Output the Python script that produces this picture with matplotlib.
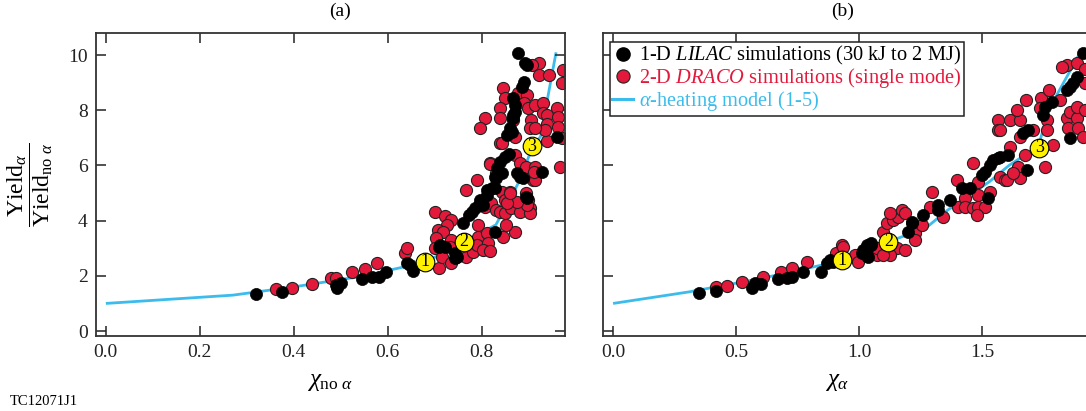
import matplotlib
matplotlib.use("Agg")
import matplotlib.pyplot as plt
from matplotlib.lines import Line2D

plt.rcParams['font.family'] = ['Liberation Serif', 'DejaVu Serif']
plt.rcParams['mathtext.fontset'] = 'custom'
plt.rcParams['mathtext.rm'] = 'Liberation Serif'
plt.rcParams['mathtext.it'] = 'Liberation Serif:italic'
plt.rcParams['mathtext.bf'] = 'Liberation Serif:bold'

RED = '#E3193C'
CYAN = '#3CBCEC'
YELLOW = '#FFF200'

# ---------------- panel (a): chi_no_alpha ----------------
a_black_x = [0.320, 0.374, 0.491, 0.501, 0.490, 0.545, 0.567, 0.581, 0.597, 0.640, 0.654, 0.647,
             0.711, 0.721, 0.743, 0.747, 0.708, 0.743,
             0.761, 0.772, 0.779, 0.785, 0.793, 0.796, 0.803, 0.810, 0.810, 0.821, 0.828, 0.828,
             0.833, 0.839, 0.831, 0.842, 0.850, 0.857, 0.853, 0.864, 0.860, 0.867, 0.867, 0.871,
             0.871, 0.867, 0.885, 0.889, 0.892, 0.896, 0.878, 0.874, 0.882, 0.888, 0.895, 0.896,
             0.928, 0.960, 0.828]
a_black_y = [1.33, 1.40, 1.57, 1.73, 1.68, 1.88, 1.94, 1.97, 2.15, 2.47, 2.17, 2.39,
             3.12, 3.05, 2.63, 2.69, 3.05, 2.81,
             3.90, 4.20, 4.32, 4.45, 4.57, 4.75, 4.57, 4.93, 5.11, 5.17, 5.17, 5.59,
             5.89, 6.13, 5.53, 5.71, 6.32, 6.43, 7.10, 7.22, 7.34, 7.71, 7.83, 7.95,
             8.19, 8.43, 8.85, 9.03, 9.70, 9.64, 10.08, 5.71, 5.59, 5.53, 4.87, 4.81,
             5.77, 7.04, 3.60]

a_red_x = [0.363, 0.397, 0.439, 0.478, 0.489, 0.523, 0.551, 0.577, 0.636, 0.640,
           0.709, 0.700, 0.721, 0.735, 0.725, 0.707, 0.718, 0.702, 0.700, 0.716, 0.735, 0.732,
           0.735, 0.767, 0.781, 0.792, 0.792, 0.789, 0.810, 0.813, 0.803,
           0.767, 0.789, 0.817, 0.838, 0.806, 0.820, 0.831, 0.842, 0.860, 0.849, 0.856, 0.874,
           0.895, 0.899, 0.902, 0.838, 0.849, 0.863, 0.881, 0.831, 0.870, 0.881, 0.895, 0.913,
           0.913, 0.909, 0.938, 0.967,
           0.922, 0.906, 0.921, 0.942, 0.972, 0.845, 0.850, 0.878, 0.896, 0.889, 0.839, 0.839,
           0.807, 0.796, 0.867, 0.899, 0.913, 0.931, 0.931, 0.905, 0.938, 0.960, 0.963, 0.938,
           0.963, 0.935, 0.903, 0.913, 0.970, 0.970, 0.842, 0.871, 0.871, 0.852, 0.845, 0.818,
           0.903, 0.896, 0.913, 0.910, 0.875, 0.853, 0.860, 0.818]
a_red_y = [1.51, 1.57, 1.70, 1.92, 1.92, 2.13, 2.23, 2.45, 2.81, 3.00,
           2.27, 4.32, 4.17, 4.04, 3.84, 3.66, 3.60, 3.36, 3.00, 2.69, 3.30, 3.05,
           2.45, 2.69, 2.87, 3.84, 3.42, 3.12, 3.54, 3.18, 2.93,
           5.11, 5.47, 6.08, 6.80, 4.50, 4.63, 4.38, 5.05, 5.05, 4.75, 4.57, 4.57,
           4.99, 4.75, 4.45, 4.32, 4.26, 4.45, 4.32, 5.71, 6.38, 6.08, 5.95, 5.95,
           5.71, 5.47, 6.87, 5.95,
           9.72, 9.64, 9.28, 9.28, 9.46, 8.82, 8.43, 8.61, 8.55, 8.25, 8.07, 7.71,
           7.71, 7.34, 7.64, 8.07, 8.19, 8.25, 7.89, 7.64, 7.83, 8.07, 7.77, 7.52,
           7.40, 7.28, 7.34, 7.34, 8.97, 6.98, 6.80, 7.04, 3.60, 3.84, 3.42, 2.90,
           4.26, 4.57, 5.47, 5.77, 4.69, 4.63, 5.01, 6.07]

a_model_x = [0.0, 0.27, 0.40, 0.55, 0.68, 0.76, 0.83, 0.857, 0.882, 0.906, 0.925, 0.958]
a_model_y = [1.0, 1.30, 1.60, 2.00, 2.50, 3.20, 3.85, 4.70, 5.50, 6.60, 7.05, 10.1]

a_mark_x = [0.679, 0.762, 0.906]
a_mark_y = [2.51, 3.24, 6.70]

# ---------------- panel (b): chi_alpha ----------------
b_black_x = [0.351, 0.419, 0.566, 0.577, 0.600, 0.672, 0.706, 0.726, 0.774, 0.846, 0.871, 0.882,
             0.896, 1.011, 1.031, 1.031, 1.050, 1.015, 1.034, 1.038, 1.050, 1.200, 1.214, 1.214,
             1.261, 1.322, 1.322, 1.370, 1.417, 1.451, 1.526, 1.499, 1.512, 1.533, 1.546, 1.566,
             1.573, 1.607, 1.684, 1.668, 1.688, 1.749, 1.756, 1.783, 1.858, 1.871, 1.858, 1.844,
             1.885, 1.912]
b_black_y = [1.39, 1.45, 1.57, 1.73, 1.69, 1.88, 1.93, 1.97, 2.15, 2.15, 2.45, 2.57,
             2.51, 2.81, 3.00, 3.12, 3.12, 2.93, 2.72, 2.69, 3.18, 3.60, 3.90, 3.96,
             4.20, 4.57, 4.38, 4.75, 5.17, 5.17, 4.81, 5.65, 5.77, 6.01, 6.20, 6.26,
             6.32, 6.38, 5.83, 7.16, 7.28, 7.83, 8.13, 8.31, 6.98, 8.97, 8.85, 8.73,
             9.21, 10.06]

b_red_x = [0.419, 0.462, 0.526, 0.608, 0.682, 0.726, 0.790, 0.906, 0.930, 0.936, 0.984, 0.997,
           1.072, 1.085, 1.072, 1.099, 1.113, 1.139, 1.160, 1.174, 1.187, 1.126, 1.153, 1.187,
           1.126, 1.228, 1.228, 1.099,
           1.255, 1.295, 1.289, 1.343, 1.397, 1.404, 1.431, 1.431, 1.465, 1.485, 1.485, 1.512,
           1.478, 1.533, 1.465, 1.485, 1.573, 1.593, 1.566, 1.566,
           1.600, 1.648, 1.654, 1.627, 1.675, 1.614, 1.654, 1.573, 1.614, 1.654, 1.641, 1.681,
           1.756, 1.790, 1.709, 1.742, 1.736, 1.763, 1.763, 1.773, 1.817, 1.844, 1.858, 1.885,
           1.851, 1.892, 1.912, 1.844, 1.824, 1.885, 1.885, 1.920, 1.920, 1.920]
b_red_y = [1.61, 1.63, 1.76, 1.95, 2.15, 2.27, 2.51, 2.81, 3.12, 3.05, 2.75, 2.51,
           2.75, 3.00, 3.00, 3.60, 3.90, 4.02, 4.14, 4.38, 4.26, 4.26, 3.00, 2.93,
           2.75, 3.54, 3.30, 2.75,
           3.84, 5.05, 4.50, 4.14, 5.47, 4.50, 4.81, 4.50, 4.45, 4.93, 4.50, 4.50,
           4.20, 5.05, 6.08, 5.41, 5.59, 5.47, 7.64, 7.28,
           5.47, 5.95, 5.53, 5.71, 6.38, 6.68, 7.04, 7.28, 7.64, 7.64, 8.00, 8.37,
           5.95, 6.74, 7.28, 8.43, 8.07, 7.64, 7.28, 8.73, 8.37, 7.71, 7.95, 7.71,
           7.34, 7.34, 7.04, 9.64, 9.58, 9.70, 8.13, 8.00, 8.97, 9.50]

b_model_x = [0.0, 0.31, 0.60, 0.93, 1.12, 1.27, 1.36, 1.53, 1.61, 1.73, 1.77, 1.90]
b_model_y = [1.0, 1.42, 1.90, 2.55, 3.24, 3.72, 4.38, 5.41, 6.00, 6.70, 8.00, 10.1]

b_mark_x = [0.930, 1.119, 1.733]
b_mark_y = [2.57, 3.24, 6.65]

mark_labels = ['1', '2', '3']
yticks = [0, 2, 4, 6, 8, 10]
a_xticks = [0.0, 0.2, 0.4, 0.6, 0.8]
b_xticks = [0.0, 0.5, 1.0, 1.5]

legend_labels = [r'1-D $\mathit{LILAC}$ simulations (30 kJ to 2 MJ)',
                 r'2-D $\mathit{DRACO}$ simulations (single mode)',
                 r'$\alpha$-heating model (1-5)']

W, H = 1086, 411
fig = plt.figure(figsize=(W / 100, H / 100), dpi=100)

axA = fig.add_axes([96 / W, 1 - 336 / H, 469 / W, 303 / H])
axB = fig.add_axes([603 / W, 1 - 336 / H, 497 / W, 303 / H])

S_DOT = 76
S_MARK = 180


def draw(ax, mx, my, rx, ry, bx, by, kx, ky):
    ax.plot(mx, my, color=CYAN, lw=2.0, zorder=1, solid_capstyle='butt')
    ax.scatter(rx, ry, s=S_DOT, c=RED, edgecolors='#222222', linewidths=0.8, zorder=2)
    ax.scatter(bx, by, s=S_DOT, c='black', edgecolors='black', linewidths=0.5, zorder=3)
    ax.scatter(kx, ky, s=S_MARK, c=YELLOW, edgecolors='black', linewidths=0.8, zorder=4)
    for x, y, t in zip(kx, ky, mark_labels):
        ax.text(x, y, t, ha='center', va='center', fontsize=13, zorder=5)
    ax.set_ylim(-0.18, 10.8)
    ax.set_yticks(yticks)
    ax.tick_params(direction='in', length=7, width=1.1, top=True, right=True,
                   labelsize=14, pad=6, colors='#222222')
    for sp in ax.spines.values():
        sp.set_linewidth(1.3)
        sp.set_color('#333333')


draw(axA, a_model_x, a_model_y, a_red_x, a_red_y, a_black_x, a_black_y, a_mark_x, a_mark_y)
draw(axB, b_model_x, b_model_y, b_red_x, b_red_y, b_black_x, b_black_y, b_mark_x, b_mark_y)

axA.set_xlim(-0.021, 0.977)
axA.set_xticks(a_xticks)
axA.set_xticklabels(['%.1f' % v for v in a_xticks])
axA.set_yticklabels([str(v) for v in yticks])

axB.set_xlim(-0.041, 1.98)
axB.set_xticks(b_xticks)
axB.set_xticklabels(['%.1f' % v for v in b_xticks])
axB.set_yticklabels([])

for lab in axA.get_xticklabels() + axA.get_yticklabels() + axB.get_xticklabels():
    lab.set_color('#222222')

axA.set_title('(a)', fontsize=14, x=0.52, pad=12)
axB.set_title('(b)', fontsize=14, x=0.483, pad=12)

axA.set_xlabel(r'$\chi_{\mathrm{no}\ \alpha}$', fontsize=18)
axA.xaxis.set_label_coords(0.5, -0.115)
axB.set_xlabel(r'$\chi_{\alpha}$', fontsize=18)
axB.xaxis.set_label_coords(0.471, -0.115)

axA.set_ylabel(r'$\dfrac{\mathrm{Yield}_{\alpha}}{\mathrm{Yield}_{\mathrm{no}\ \alpha}}$', fontsize=17)
axA.yaxis.set_label_coords(-0.087, 0.50)

handles = [Line2D([], [], ls='none', marker='o', ms=9.5, mfc='black', mec='black'),
           Line2D([], [], ls='none', marker='o', ms=9.5, mfc=RED, mec='#222222', mew=0.8),
           Line2D([], [], color=CYAN, lw=2.2)]
leg = fig.legend(handles, legend_labels, loc='upper left',
                 bbox_to_anchor=(610 / W, 1 - 42 / H), borderaxespad=0,
                 fontsize=14.7, frameon=True, fancybox=False, framealpha=1,
                 edgecolor='#222222', handlelength=1.0, handletextpad=0.3,
                 labelspacing=-0.05, borderpad=0.12)
leg.get_frame().set_linewidth(1.1)
for txt, col in zip(leg.get_texts(), ['black', RED, CYAN]):
    txt.set_color(col)

fig.text(10 / W, 1 - 401 / H, 'TC12071J1', fontsize=10.5, va='center', ha='left')

fig.savefig('out.png', dpi=100)
